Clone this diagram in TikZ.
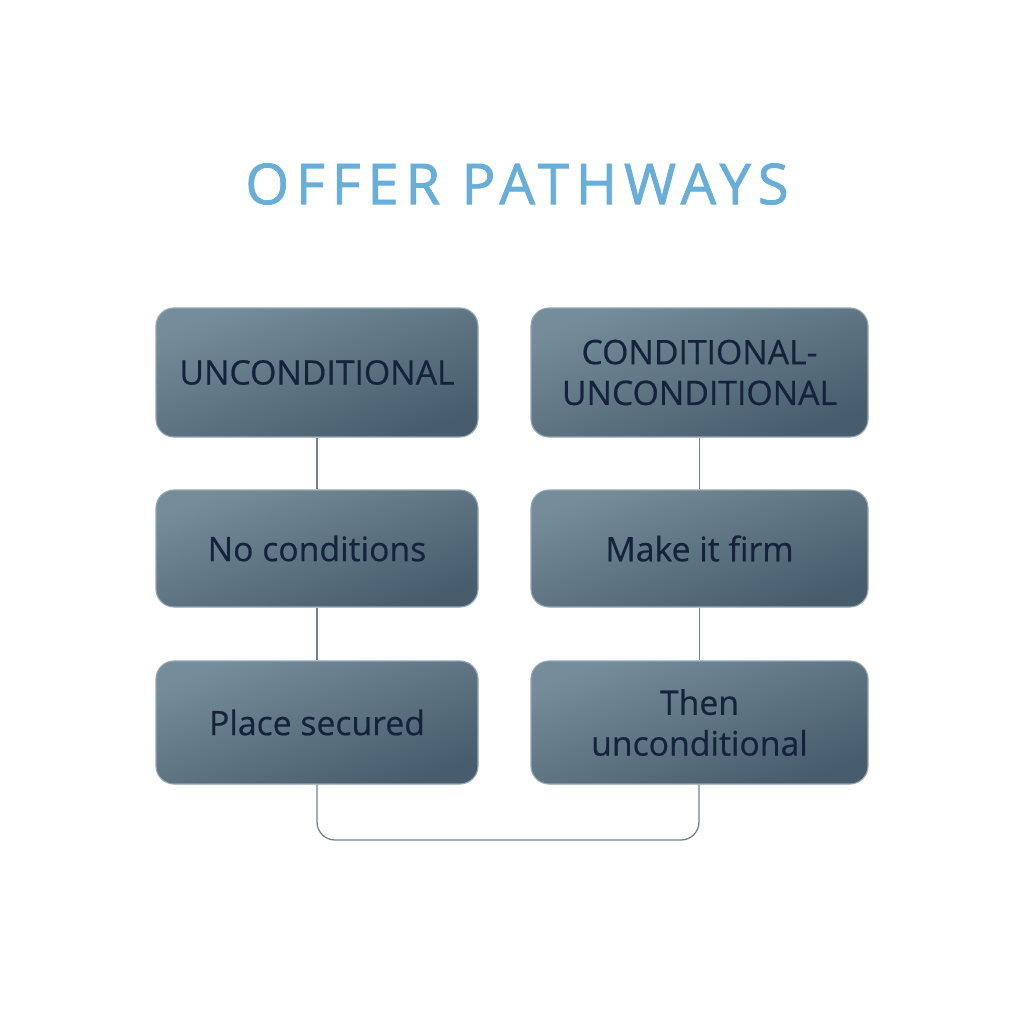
\documentclass[tikz,border=0pt]{standalone}
\usepackage{fontspec}
\setmainfont{Open Sans}[FakeBold=0.6]
\newfontfamily\titlefont{Open Sans}[LetterSpace=12, FakeBold=1.4]
\newfontfamily\boxfont{Open Sans}[FakeBold=0.5]
\definecolor{boxlight}{HTML}{758C9A}
\definecolor{boxdark}{HTML}{475C6C}
\definecolor{boxedge}{HTML}{93A6B3}
\definecolor{inktext}{HTML}{14223A}
\definecolor{linkline}{HTML}{6E8290}
\definecolor{titleblue}{HTML}{68AED8}
\begin{document}
\begin{tikzpicture}[x=0.025cm, y=-0.025cm,
  pathbox/.style={draw=boxedge, line width=0.8pt, rounded corners=0.45cm,
    top color=boxlight, bottom color=boxdark, shading angle=20,
    text=inktext, font=\boxfont\fontsize{24}{29}\selectfont, align=center,
    inner sep=0pt},
  link/.style={draw=linkline, line width=0.9pt}]
\useasboundingbox (0,0) rectangle (1024,1024);
\node[text=titleblue, font=\titlefont\fontsize{40}{48}\selectfont] (title) at (517,184) {OFFER PATHWAYS};
% left column
\node[pathbox, minimum width=322*0.025cm, minimum height=129*0.025cm] (uncond) at (317,372.5) {UNCONDITIONAL};
\node[pathbox, minimum width=322*0.025cm, minimum height=117*0.025cm] (nocond) at (317,548.5) {No conditions};
\node[pathbox, minimum width=322*0.025cm, minimum height=123*0.025cm] (secured) at (317,722.5) {Place secured};
% right column
\node[pathbox, minimum width=337*0.025cm, minimum height=129*0.025cm] (condun) at (699.5,372.5) {CONDITIONAL-\\UNCONDITIONAL};
\node[pathbox, minimum width=337*0.025cm, minimum height=117*0.025cm] (firm) at (699.5,548.5) {Make it firm};
\node[pathbox, minimum width=337*0.025cm, minimum height=123*0.025cm] (thenun) at (699.5,722.5) {Then\\unconditional};
\draw[link] (uncond) -- (nocond);
\draw[link] (nocond) -- (secured);
\draw[link] (condun.south) -- (condun.south |- firm.north);
\draw[link] (firm.south) -- (firm.south |- thenun.north);
\coordinate (joinl) at (317,840);
\coordinate (joinr) at (699,840);
\draw[link, rounded corners=0.45cm] (secured.south) -- (joinl) -- (joinr) -- (thenun.south -| joinr);
\end{tikzpicture}
\end{document}
